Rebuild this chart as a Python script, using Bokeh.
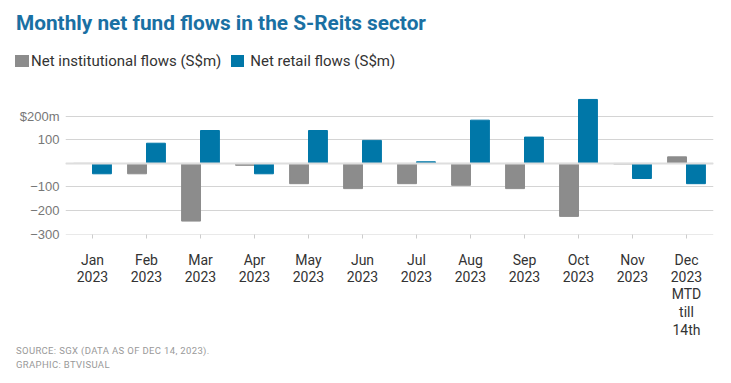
from bokeh.plotting import figure
from bokeh.layouts import column
from bokeh.models import (FactorRange, Range1d, Span, ColumnDataSource, CategoricalAxis, Div)
from bokeh.transform import dodge
from bokeh.embed import file_html
from bokeh.resources import INLINE

months = ["Jan", "Feb", "Mar", "Apr", "May", "Jun", "Jul", "Aug", "Sep", "Oct", "Nov", "Dec"]
label_line2 = ["2023"] * 12
label_line3 = [""] * 11 + ["MTD"]
label_line4 = [""] * 11 + ["till"]
label_line5 = [""] * 11 + ["14th"]
institutional = [0, -44, -245, -8, -86, -107, -86, -93, -107, -225, -2, 28]
retail = [-44, 86, 140, -44, 140, 98, 7, 184, 112, 272, -64, -86]
y_ticks = [-300, -200, -100, 0, 100, 200]
y_tick_labels = ["\u2212300", "\u2212200", "\u2212100", "", "100", "$200m"]

title_text = "Monthly net fund flows in the S-Reits sector"
series_names = ["Net institutional flows (S$m)", "Net retail flows (S$m)"]
footer_lines = ["SOURCE: SGX (DATA AS OF DEC 14, 2023).", "GRAPHIC: BTVISUAL"]

GREY = "#8c8c8c"
BLUE = "#0077a8"
XFONT = "Roboto"
XSIZE = "14px"
ZW = "\u200b"  # zero-width, only used to keep repeated label factors distinct

src = ColumnDataSource(dict(month=months, inst=institutional, retail=retail))

p = figure(width=731, height=260, x_range=FactorRange(*months, range_padding=0),
           y_range=Range1d(-302, 293), output_backend="svg", toolbar_location=None,
           min_border_left=65, min_border_right=18, min_border_top=14, min_border_bottom=105,
           margin=0)
p.outline_line_color = None

r1 = p.vbar(x=dodge("month", -0.175, range=p.x_range), top="inst", width=0.35,
            source=src, color=GREY)
r2 = p.vbar(x=dodge("month", 0.175, range=p.x_range), top="retail", width=0.35,
            source=src, color=BLUE)

p.xgrid.grid_line_color = None
p.ygrid.ticker = y_ticks
p.ygrid.grid_line_color = "#d4d4d4"

p.add_layout(Span(location=0, dimension="width", line_color="#dedede", line_width=2))

p.yaxis.ticker = y_ticks
p.yaxis.major_label_overrides = {t: l for t, l in zip(y_ticks, y_tick_labels)}
p.yaxis.axis_line_color = None
p.yaxis.major_tick_line_color = None
p.yaxis.minor_tick_line_color = None
p.yaxis.major_tick_in = 0
p.yaxis.major_tick_out = 0
p.yaxis.major_label_standoff = 6
p.yaxis.major_label_text_font = "Liberation Sans"
p.yaxis.major_label_text_font_size = "13px"
p.yaxis.major_label_text_color = "#777777"

p.xaxis.axis_line_color = None
p.xaxis.major_tick_in = 0
p.xaxis.major_tick_out = 4
p.xaxis.major_tick_line_color = "#cccccc"
p.xaxis.major_label_standoff = 13
p.xaxis.major_label_text_font = XFONT
p.xaxis.major_label_text_font_size = XSIZE
p.xaxis.major_label_text_color = "#333333"

# further lines of the month labels: one categorical axis per line
standoffs = [-2, -2, -1, -1]
for k, line in enumerate((label_line2, label_line3, label_line4, label_line5)):
    factors = [t + ZW * (i + 1) if line.count(t) > 1 else t for i, t in enumerate(line)]
    name = "line%d" % (k + 2)
    p.extra_x_ranges[name] = FactorRange(*factors, range_padding=0)
    ax = CategoricalAxis(x_range_name=name,
                         axis_line_color=None, major_tick_line_color=None,
                         major_tick_in=0, major_tick_out=0, major_label_standoff=standoffs[k],
                         major_label_text_font=XFONT, major_label_text_font_size=XSIZE,
                         major_label_text_color="#333333")
    p.add_layout(ax, "below")

header_html = (
    '<div style="position:relative;width:731px;height:80px;margin:0;padding:0;">'
    '<div style="position:absolute;left:16px;top:11px;font-family:Roboto;font-weight:bold;'
    'font-size:20.8px;line-height:25px;color:#1a70a3;white-space:nowrap;">%s</div>'
    '<div style="position:absolute;left:15px;top:52px;height:18px;display:flex;align-items:center;'
    'font-family:Roboto;font-size:15px;line-height:18px;color:#333333;white-space:nowrap;">'
    '<span style="display:inline-block;width:14px;height:12px;background:%s;margin-right:2px;"></span>'
    '<span>%s</span>'
    '<span style="display:inline-block;width:13px;height:12px;background:%s;margin-left:10px;margin-right:6px;"></span>'
    '<span>%s</span></div></div>'
) % (title_text, GREY, series_names[0], BLUE, series_names[1])
header = Div(text=header_html, width=731, height=80, margin=0)

footer_html = (
    '<div style="width:731px;height:43px;margin:0;padding:4px 0 0 16px;box-sizing:border-box;'
    'font-family:Roboto;font-size:9.5px;letter-spacing:0.35px;line-height:14.4px;'
    'color:#999999;white-space:nowrap;">%s<br>%s</div>'
) % (footer_lines[0], footer_lines[1])
footer = Div(text=footer_html, width=731, height=43, margin=0)

layout = column(header, p, footer, spacing=0)
open("out.html", "w").write(file_html(layout, INLINE))
